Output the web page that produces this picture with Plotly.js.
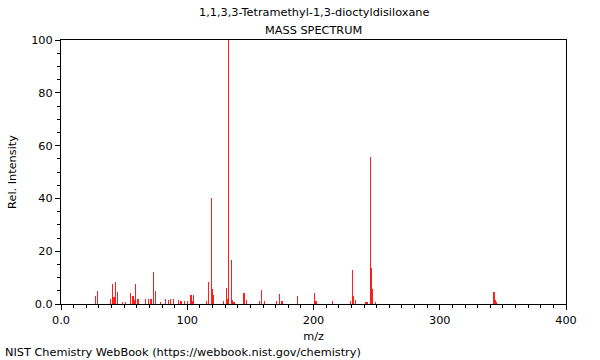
<!DOCTYPE html>
<html>
<head>
<meta charset="utf-8">
<script src="https://cdn.plot.ly/plotly-3.0.1.min.js"></script>
<style>html,body{margin:0;padding:0;background:#fff;}#chart{width:600px;height:360px;}</style>
</head>
<body>
<div id="chart"></div>
<script>
var mz = [27,29,39,41,42,43,45,49,51,55,57,58,59,61,67,69,71,72,73,75,79,83,85,87,89,93,95,98,100,103,104,105,115,117,119,120,121,129,131,132,133,135,136,137,145,147,157,159,161,171,173,175,187,201,202,215,229,231,232,233,241,242,243,245,246,247,249,343,344,345];
var intensity = [3.0,4.9,1.9,7.7,2.5,8.3,4.4,0.8,0.9,4.3,3.0,1.5,7.6,1.9,1.9,1.8,2.0,1.8,12.0,4.8,0.8,1.8,1.5,1.8,1.9,1.5,1.3,1.0,1.0,3.6,1.2,3.6,1.0,8.3,40.3,5.7,3.4,1.2,6.2,2.0,100,16.7,1.4,0.8,4.2,1.5,1.2,5.3,1.2,1.0,3.8,1.2,3.0,4.3,1.0,1.1,1.0,12.9,3.1,1.6,0.6,0.7,0.7,55.6,13.8,5.8,0.8,4.7,1.5,0.7];
var xTickVals = [0,100,200,300,400];
var xTickText = ["0.0","100","200","300","400"];
var yTickVals = [0,20,40,60,80,100];
var yTickText = ["0.0","20","40","60","80","100"];
var titleLine1 = "1,1,3,3-Tetramethyl-1,3-dioctyldisiloxane";
var titleLine2 = "MASS SPECTRUM";
var footer = "NIST Chemistry WebBook (https://webbook.nist.gov/chemistry)";

var font = {family: "DejaVu Sans, sans-serif", size: 11.3, color: "#000"};
var plotW = 505, plotH = 264;
function ann(text, px, py, xanchor) {
  return {text: text, xref: "paper", yref: "paper", x: (px - 61) / plotW, y: (304 - py) / plotH,
    xanchor: xanchor, yanchor: "middle", showarrow: false, font: font};
}
Plotly.newPlot("chart", [{
  type: "bar", x: mz, y: intensity, width: 0.9,
  marker: {color: "rgb(255,30,30)", line: {width: 0}},
  hoverinfo: "x+y"
}], {
  width: 600, height: 360,
  margin: {l: 61, r: 34, t: 40, b: 56},
  paper_bgcolor: "#fff", plot_bgcolor: "#fff",
  font: font,
  showlegend: false,
  bargap: 0,
  xaxis: {range: [0, 400], tickvals: xTickVals, ticktext: xTickText, ticks: "outside", ticklen: 5, tickcolor: "#000",
    showgrid: false, zeroline: false, showline: true, linecolor: "#000", linewidth: 1, mirror: true,
    minor: {dtick: 10, ticks: "outside", ticklen: 3, tickcolor: "#000", showgrid: false},
    tickfont: font, title: {text: "m/z", font: font, standoff: 6}},
  yaxis: {range: [0, 100], tickvals: yTickVals, ticktext: yTickText, ticks: "outside", ticklen: 5, tickcolor: "#000",
    showgrid: false, zeroline: false, showline: true, linecolor: "#000", linewidth: 1, mirror: true,
    minor: {dtick: 5, ticks: "outside", ticklen: 3, tickcolor: "#000", showgrid: false},
    tickfont: font, title: {text: "Rel. Intensity", font: font, standoff: 12}},
  annotations: [
    ann(titleLine1, 313.5, 13, "center"),
    ann(titleLine2, 313.5, 30, "center"),
    ann(footer, 3, 352, "left")
  ]
}, {displayModeBar: false, staticPlot: true});
</script>
</body>
</html>
